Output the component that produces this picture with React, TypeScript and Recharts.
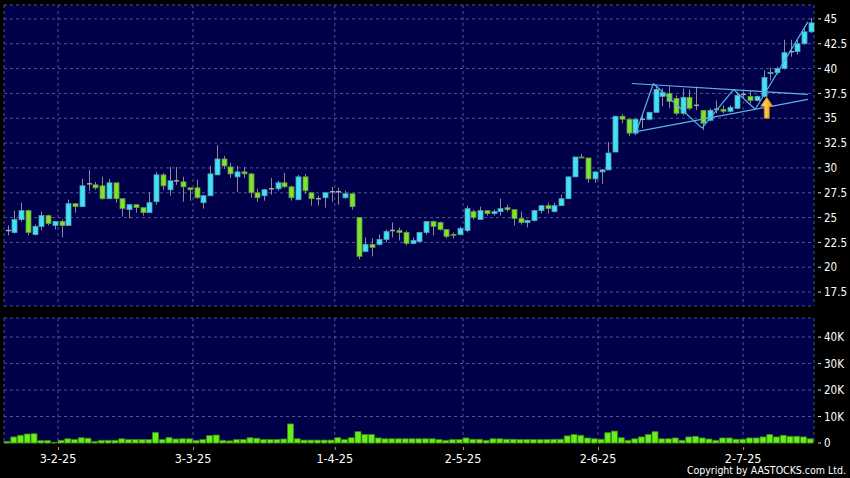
import React from 'react';
import { ComposedChart, Bar, XAxis, YAxis, CartesianGrid, ReferenceLine, ReferenceDot } from 'recharts';

// daily OHLC (0-based index = trading day)
const opens = [
  23.7, 23.5, 24.8, 25.7, 23.3, 24.1, 25.2, 24.2, 24.6, 24.2, 26.4, 26.1, 28.3, 28.3, 28.2, 26.9, 28.5, 26.9, 25.8, 26.3,
  26.0, 25.5, 26.6, 29.3, 27.8, 28.7, 28.6, 28.0, 28.0, 26.5, 27.2, 29.3, 30.9, 30.1, 29.1, 29.6, 29.4, 27.5, 27.2, 27.9,
  27.9, 28.5, 28.1, 26.8, 29.1, 27.5, 26.9, 27.0, 27.6, 27.6, 27.0, 27.4, 25.0, 21.6, 22.3, 22.3, 22.8, 23.7, 23.7, 23.5,
  22.4, 22.6, 23.5, 24.6, 24.5, 23.8, 23.3, 23.3, 23.7, 25.6, 24.8, 25.7, 25.4, 25.6, 26.0, 25.8, 24.9, 24.5, 24.7, 25.7,
  26.2, 25.6, 26.2, 26.9, 29.1, 31.1, 31.0, 28.9, 29.6, 29.8, 31.6, 35.2, 34.9, 33.5, 34.9, 34.9, 35.6, 37.2, 37.5, 37.0,
  35.5, 37.1, 36.3, 35.8, 34.8, 35.9, 35.9, 35.7, 36.0, 37.4, 37.2, 36.8, 37.2, 39.5, 39.6, 40.0, 41.7, 41.7, 42.5, 43.7,
];
const highs = [
  24.2, 25.7, 26.5, 25.8, 24.3, 25.6, 25.3, 24.6, 24.8, 26.8, 26.4, 28.9, 29.8, 28.6, 29.1, 28.9, 28.5, 26.9, 26.3, 26.3,
  26.0, 27.5, 29.6, 29.5, 30.1, 30.1, 29.1, 28.0, 28.8, 27.3, 30.2, 32.3, 31.2, 30.5, 30.2, 30.1, 29.5, 27.9, 27.9, 29.0,
  28.7, 29.5, 28.2, 29.3, 29.4, 27.5, 27.2, 27.5, 28.1, 28.0, 27.7, 27.4, 25.0, 23.0, 22.9, 23.3, 23.8, 24.5, 24.0, 23.7,
  23.0, 23.5, 24.6, 24.7, 24.6, 23.8, 23.5, 24.1, 26.2, 25.8, 26.1, 25.7, 25.8, 26.9, 26.3, 25.8, 25.6, 24.8, 25.8, 26.2,
  26.5, 26.5, 27.3, 29.1, 31.1, 31.4, 31.0, 29.6, 29.9, 32.6, 35.2, 35.4, 34.9, 34.9, 35.3, 35.6, 38.3, 38.0, 38.2, 37.3,
  38.0, 37.9, 38.2, 35.8, 36.0, 36.8, 36.3, 36.3, 37.6, 37.7, 37.8, 37.3, 39.8, 40.1, 40.2, 42.9, 42.9, 42.9, 44.2, 45.1,
];
const lows = [
  23.2, 23.4, 24.6, 23.2, 23.2, 23.7, 24.2, 23.8, 23.0, 24.2, 25.5, 26.1, 27.7, 27.8, 26.8, 26.9, 26.5, 25.1, 24.9, 25.5,
  25.2, 25.5, 26.3, 27.8, 27.2, 28.3, 26.6, 26.7, 26.9, 25.9, 27.2, 29.3, 29.9, 29.0, 27.6, 29.0, 27.0, 26.6, 26.7, 27.3,
  27.7, 28.0, 26.7, 26.8, 27.4, 26.2, 26.2, 26.0, 26.6, 26.3, 26.9, 25.8, 20.8, 21.5, 21.1, 22.2, 22.5, 23.0, 22.7, 22.2,
  22.3, 22.5, 23.3, 23.2, 23.7, 22.9, 22.9, 23.2, 23.5, 24.8, 24.8, 25.2, 25.2, 25.2, 25.6, 24.2, 24.3, 24.0, 24.6, 25.4,
  25.4, 25.5, 26.2, 26.9, 29.1, 31.0, 28.5, 28.5, 28.4, 29.8, 31.6, 34.5, 33.2, 33.3, 34.0, 34.8, 35.6, 36.2, 36.0, 35.3,
  35.3, 35.8, 35.8, 33.8, 34.7, 35.5, 35.5, 35.6, 35.9, 37.0, 36.5, 36.7, 37.1, 38.8, 39.4, 39.9, 41.2, 41.4, 42.4, 43.6,
];
const closes = [
  23.7, 24.8, 25.7, 23.5, 24.1, 25.2, 24.4, 24.6, 24.2, 26.4, 26.1, 28.2, 28.4, 28.0, 26.9, 28.5, 26.9, 25.9, 26.3, 26.0,
  25.5, 26.5, 29.3, 28.2, 28.7, 28.7, 28.1, 27.8, 27.0, 27.2, 29.4, 30.9, 30.2, 29.4, 29.6, 29.4, 27.5, 27.0, 27.8, 27.9,
  28.5, 28.1, 27.0, 29.1, 27.7, 26.9, 26.9, 27.5, 27.6, 27.6, 27.4, 26.1, 21.1, 22.3, 22.0, 22.8, 23.6, 23.7, 23.5, 22.4,
  22.7, 23.5, 24.6, 24.1, 23.8, 23.1, 23.2, 23.9, 25.9, 25.0, 25.7, 25.4, 25.6, 25.9, 25.8, 24.9, 24.5, 24.7, 25.7, 26.2,
  25.9, 26.2, 26.9, 29.1, 31.1, 31.0, 28.9, 29.6, 29.8, 31.5, 35.2, 34.9, 33.5, 34.9, 34.9, 35.6, 37.9, 37.6, 36.7, 35.5,
  37.1, 36.0, 36.2, 34.5, 35.8, 35.9, 35.7, 36.1, 37.3, 37.4, 36.8, 37.2, 39.1, 39.6, 40.0, 41.6, 41.7, 42.5, 43.7, 44.6,
];
// volume in thousands of shares
const volumes = [
  0.6, 2.3, 2.9, 3.4, 3.5, 0.9, 0.9, 0.25, 1.0, 1.6, 1.3, 2.0, 1.8, 0.6, 1.0, 1.0, 1.0, 1.6, 1.3, 1.3,
  1.3, 1.3, 4.0, 1.3, 2.1, 1.5, 1.6, 1.6, 1.0, 1.3, 2.8, 3.0, 1.0, 0.8, 1.3, 1.3, 2.0, 1.8, 1.3, 1.3,
  1.3, 1.5, 7.2, 1.6, 1.1, 1.1, 1.1, 1.1, 1.1, 2.0, 1.3, 2.0, 4.3, 3.2, 3.2, 1.9, 1.6, 1.6, 1.6, 1.6,
  1.6, 1.6, 1.6, 1.6, 1.3, 1.0, 1.3, 1.3, 1.9, 1.4, 1.4, 1.0, 1.6, 1.6, 1.4, 1.4, 1.3, 1.3, 1.3, 1.3,
  1.3, 1.4, 1.4, 2.7, 3.2, 2.9, 1.9, 1.6, 1.4, 3.9, 4.5, 2.0, 1.0, 1.6, 2.3, 3.2, 4.3, 1.6, 1.6, 1.9,
  1.0, 2.3, 2.5, 1.9, 1.5, 1.0, 1.9, 1.9, 1.4, 1.4, 1.9, 1.9, 2.3, 3.2, 2.3, 2.9, 2.5, 2.5, 2.3, 1.6,
];

const priceTicks = [17.5, 20, 22.5, 25, 27.5, 30, 32.5, 35, 37.5, 40, 42.5, 45];
const volTicks = [0, 10, 20, 30, 40];
const dateTicks = [7.5, 27.5, 48.5, 67.5, 87.5, 109];
const dateLabels = ['3-2-25', '3-3-25', '1-4-25', '2-5-25', '2-6-25', '2-7-25'];

// triangle annotation: [dayIndex, price]
const upperLine = [[92.5, 38.5], [118.6, 37.4]];
const lowerLine = [[93.2, 33.65], [118.6, 36.9]];
const zigzag = [[93.2, 33.65], [95.7, 38.5], [102.9, 34.0], [107.6, 37.9], [110.8, 35.9], [118.6, 44.7]];
const arrowAt = [112.5, 35];

const data = opens.map((o, i) => ({ i, o, h: highs[i], l: lows[i], c: closes[i], v: volumes[i] }));

const FONT = '"DejaVu Sans Condensed", "DejaVu Sans", sans-serif';
const BG = '#00004a';
const GRID = '#4e5789';

const Candle = (props: any) => {
  const { x, y, width, height, payload } = props;
  const { o, h, l, c } = payload;
  const top = Math.min(y, y + height);
  const hh = Math.abs(height);
  const k = hh / (h - l || 1);
  const py = (v: number) => top + (h - v) * k;
  const cx = Math.round(x + width / 2);
  const bTop = py(Math.max(o, c));
  const bBot = py(Math.min(o, c));
  const flat = Math.abs(c - o) < 0.1;
  return (
    <g>
      <line x1={cx + 0.5} x2={cx + 0.5} y1={top} y2={top + hh} stroke="#8c8c8c" strokeWidth={1} />
      {flat ? (
        <line x1={cx - 2} x2={cx + 3} y1={bTop} y2={bTop} stroke="#a8a8a8" strokeWidth={1.5} />
      ) : (
        <rect
          x={cx - 2}
          y={bTop}
          width={5}
          height={Math.max(1, bBot - bTop)}
          fill={c > o ? '#3de4f7' : '#7be52b'}
          stroke={c > o ? '#5a9fb0' : '#6a8f45'}
          strokeWidth={0.8}
        />
      )}
    </g>
  );
};

const Arrow = (props: any) => {
  const { cx, cy } = props;
  const d = `M${cx},${cy - 21} L${cx + 6},${cy - 12} L${cx + 2.5},${cy - 12} L${cx + 2.5},${cy} L${cx - 2.5},${cy} L${cx - 2.5},${cy - 12} L${cx - 6},${cy - 12} Z`;
  return (
    <g>
      <defs>
        <linearGradient id="arrowFill" x1="0" y1="0" x2="1" y2="0">
          <stop offset="0%" stopColor="#ffe066" />
          <stop offset="100%" stopColor="#f0a020" />
        </linearGradient>
      </defs>
      <path d={d} fill="url(#arrowFill)" stroke="#c88010" strokeWidth={0.8} />
    </g>
  );
};

const RightTick = (props: any) => {
  const { x, y, payload, fmt } = props;
  return (
    <g>
      <line x1={x + 4} x2={x + 7} y1={y} y2={y} stroke="#ddd" strokeWidth={1} />
      <text x={x + 10} y={y} dy="0.36em" fill="#fff" fontSize={11.5} fontFamily={FONT} textAnchor="start">
        {fmt ? fmt(payload.value) : payload.value}
      </text>
    </g>
  );
};

const DateTick = (props: any) => {
  const { x, y, payload } = props;
  const idx = dateTicks.indexOf(payload.value);
  return (
    <g>
      <line x1={x + 0.5} x2={x + 0.5} y1={y + 4} y2={y + 7} stroke="#999" strokeWidth={1} />
      <text x={x} y={y + 15} dy="0.36em" fill="#fff" fontSize={12.5} fontFamily={FONT} textAnchor="middle">
        {dateLabels[idx]}
      </text>
    </g>
  );
};

const volFmt = (v: number) => (v === 0 ? '0' : `${v}K`);

export default function App() {
  return (
    <div style={{ position: 'absolute', left: 0, top: 0, width: 850, height: 478, background: '#000', overflow: 'hidden' }}>
      <div style={{ position: 'absolute', left: 0, top: 0 }}>
        <ComposedChart width={850} height={311} data={data} margin={{ top: 5, right: 0, bottom: 5, left: 4 }}>
          <CartesianGrid fill={BG} stroke={GRID} strokeDasharray="3 3" />
          <XAxis type="number" dataKey="i" domain={[-0.5, 119.5]} ticks={dateTicks} hide />
          <YAxis
            orientation="right"
            width={36}
            domain={[16.1, 46.4]}
            ticks={priceTicks}
            axisLine={false}
            tickLine={false}
            tickSize={0}
            tickMargin={0}
            tick={<RightTick />}
            allowDataOverflow
          />
          <Bar dataKey={(d: any) => [d.l, d.h]} barSize={5} shape={<Candle />} isAnimationActive={false} />
          {[upperLine, lowerLine].map((seg, k) => (
            <ReferenceLine
              key={`t${k}`}
              segment={[{ x: seg[0][0], y: seg[0][1] }, { x: seg[1][0], y: seg[1][1] }]}
              stroke="#5ab4e6"
              strokeWidth={1.2}
            />
          ))}
          {zigzag.slice(1).map((p, k) => (
            <ReferenceLine
              key={`z${k}`}
              segment={[{ x: zigzag[k][0], y: zigzag[k][1] }, { x: p[0], y: p[1] }]}
              stroke="#5ab4e6"
              strokeWidth={1.2}
            />
          ))}
          <ReferenceDot x={arrowAt[0]} y={arrowAt[1]} shape={<Arrow />} />
        </ComposedChart>
      </div>
      <div style={{ position: 'absolute', left: 0, top: 311 }}>
        <ComposedChart width={850} height={167} data={data} margin={{ top: 7, right: 0, bottom: 0, left: 4 }}>
          <CartesianGrid fill={BG} stroke={GRID} strokeDasharray="3 3" />
          <XAxis
            type="number"
            dataKey="i"
            domain={[-0.5, 119.5]}
            ticks={dateTicks}
            height={35}
            axisLine={false}
            tickLine={false}
            tickSize={0}
            tickMargin={0}
            tick={<DateTick />}
          />
          <YAxis
            orientation="right"
            width={36}
            domain={[0, 47.2]}
            ticks={volTicks}
            axisLine={false}
            tickLine={false}
            tickSize={0}
            tickMargin={0}
            tick={<RightTick fmt={volFmt} />}
          />
          <Bar dataKey="v" barSize={6} fill="#66f01a" stroke="#3a8a10" strokeWidth={0.8} isAnimationActive={false} />
        </ComposedChart>
      </div>
      <div
        style={{
          position: 'absolute',
          right: 4,
          top: 464,
          color: '#fff',
          fontSize: 10.5,
          lineHeight: '13px',
          fontFamily: FONT,
        }}
      >
        Copyright by AASTOCKS.com Ltd.
      </div>
    </div>
  );
}
